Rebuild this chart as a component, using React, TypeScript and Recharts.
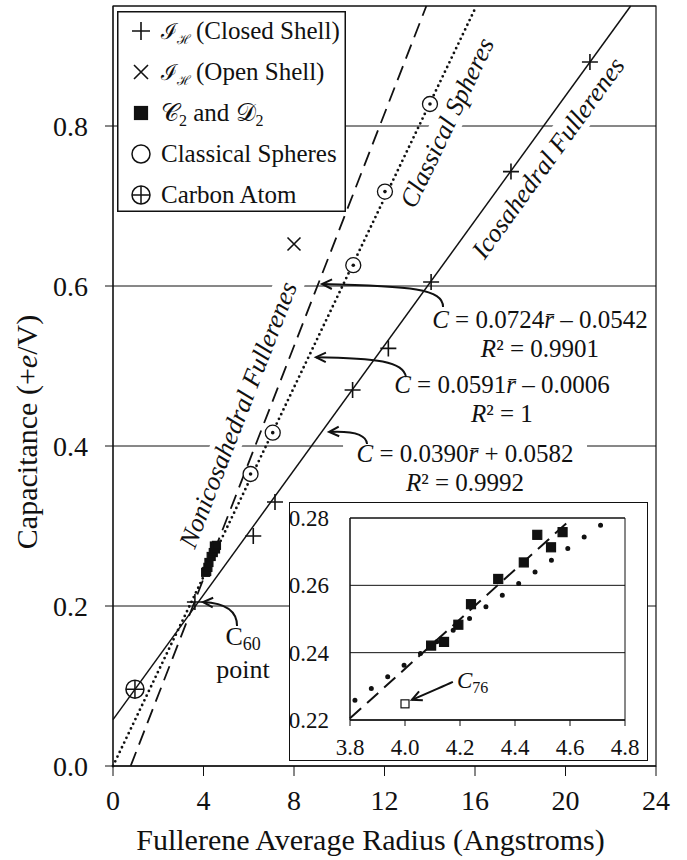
import React from 'react';
import {
  ScatterChart, Scatter, XAxis, YAxis, CartesianGrid,
  ReferenceLine, ReferenceArea, ReferenceDot,
} from 'recharts';

const FONT = "'Liberation Serif', 'Times New Roman', Times, serif";
const INK = '#111';

const xTicks = [0, 4, 8, 12, 16, 20, 24];
const yTicks = [0, 0.2, 0.4, 0.6, 0.8];

// radius (Angstrom) vs capacitance (+e/V)
const closedShell = [
  { x: 3.62, y: 0.205 }, { x: 6.2, y: 0.2875 }, { x: 7.16, y: 0.33 }, { x: 10.59, y: 0.47 },
  { x: 12.17, y: 0.522 }, { x: 14.06, y: 0.605 }, { x: 17.59, y: 0.743 }, { x: 21.08, y: 0.88 },
];
const openShell = [{ x: 8.0, y: 0.6525 }];
const c2d2 = [
  { x: 4.095, y: 0.2421 }, { x: 4.142, y: 0.2432 }, { x: 4.194, y: 0.2483 }, { x: 4.24, y: 0.2544 },
  { x: 4.339, y: 0.2619 }, { x: 4.432, y: 0.2668 }, { x: 4.481, y: 0.275 }, { x: 4.531, y: 0.2713 },
  { x: 4.573, y: 0.2758 },
];
const c76 = [{ x: 4.0, y: 0.2248 }];
const classicalSpheres = [
  { x: 6.08, y: 0.365 }, { x: 7.06, y: 0.4167 }, { x: 10.62, y: 0.626 }, { x: 12.02, y: 0.718 },
  { x: 14.01, y: 0.8275 },
];
const carbonAtom = [{ x: 0.97, y: 0.096 }];

// fit lines, end points
const icosaFit = [{ x: 0, y: 0.058 }, { x: 22.88, y: 0.95 }];
const classicalFit = [{ x: 0, y: 0 }, { x: 16.06, y: 0.95 }];
const nonicoFit = [{ x: 0.78, y: 0 }, { x: 13.85, y: 0.95 }];

const fitSlope = ['0.0724', '0.0591', '0.0390'];
const fitIntercept = ['\u2013 0.0542', '\u2013 0.0006', '+ 0.0582'];
const fitR2 = ['0.9901', '1', '0.9992'];

// inset
const insetXTicks = [3.8, 4.0, 4.2, 4.4, 4.6, 4.8];
const insetYTicks = [0.22, 0.24, 0.26, 0.28];
const insetClassical = [{ x: 3.818, y: 0.2259 }, { x: 4.712, y: 0.2779 }];
const insetNonico = [{ x: 3.8, y: 0.2205 }, { x: 4.595, y: 0.279 }];

const Plus = ({ cx, cy, r = 8 }: any) => (
  <path d={`M${cx - r},${cy}H${cx + r}M${cx},${cy - r}V${cy + r}`} stroke={INK} strokeWidth={1.6} fill="none" />
);
const Cross = ({ cx, cy, r = 6.5 }: any) => (
  <path d={`M${cx - r},${cy - r}L${cx + r},${cy + r}M${cx - r},${cy + r}L${cx + r},${cy - r}`} stroke={INK} strokeWidth={1.6} fill="none" />
);
const Square = ({ cx, cy, s = 8, open = false }: any) => (
  <rect x={cx - s / 2} y={cy - s / 2} width={s} height={s} fill={open ? '#fff' : INK} stroke={INK} strokeWidth={1.2} />
);
const DotCircle = ({ cx, cy, r = 7.5 }: any) => (
  <g>
    <circle cx={cx} cy={cy} r={r} fill="#fff" stroke={INK} strokeWidth={1.3} />
    <circle cx={cx} cy={cy} r={1.8} fill={INK} />
  </g>
);
const CirclePlus = ({ cx, cy, r = 9 }: any) => (
  <g fill="none" stroke={INK} strokeWidth={1.5}>
    <circle cx={cx} cy={cy} r={r} />
    <path d={`M${cx - r},${cy}H${cx + r}M${cx},${cy - r}V${cy + r}`} />
  </g>
);

const arrowShape = (rel: number[]) => (p: any) => {
  const { cx, cy } = p;
  const [sx, sy, c1x, c1y, c2x, c2y] = rel;
  const a = Math.atan2(-c2y, -c2x);
  const L = 11;
  const s = 0.45;
  const h1x = cx - L * Math.cos(a - s);
  const h1y = cy - L * Math.sin(a - s);
  const h2x = cx - L * Math.cos(a + s);
  const h2y = cy - L * Math.sin(a + s);
  return (
    <g fill="none" stroke={INK} strokeWidth={2}>
      <path d={`M${cx + sx},${cy + sy} C${cx + c1x},${cy + c1y} ${cx + c2x},${cy + c2y} ${cx},${cy}`} />
      <path d={`M${h1x},${h1y} L${cx},${cy} L${h2x},${h2y}`} />
    </g>
  );
};

const slantLabel = (text: string, angle: number, w: number) => (p: any) => (
  <g transform={`translate(${p.cx},${p.cy}) rotate(${-angle})`}>
    <rect x={-w / 2} y={-15} width={w} height={30} fill="#fff" />
    <text x={0} y={0} dy="0.33em" textAnchor="middle" fontStyle="italic" fontSize={26} fontFamily={FONT} fill={INK}>
      {text}
    </text>
  </g>
);

const eqShape = (i: number) => (p: any) => (
  <g fontFamily={FONT} fontSize={25} fill={INK}>
    {i === 2 && <rect x={p.cx - 122} y={p.cy - 22} width={244} height={60} fill="#fff" />}
    <text x={p.cx} y={p.cy} textAnchor="middle">
      <tspan fontStyle="italic">C</tspan>
      {` = ${fitSlope[i]}`}
      <tspan fontStyle="italic">{'r\u0304'}</tspan>
      {` ${fitIntercept[i]}`}
    </text>
    <text x={p.cx} y={p.cy + 29} textAnchor="middle">
      <tspan fontStyle="italic">R</tspan>
      {`\u00b2 = ${fitR2[i]}`}
    </text>
  </g>
);

const c60Label = (p: any) => (
  <g fontFamily={FONT} fontSize={26} fill={INK}>
    <text x={p.cx} y={p.cy} textAnchor="middle">
      C<tspan fontSize={18} dy={5}>60</tspan>
    </text>
    <text x={p.cx} y={p.cy + 33} textAnchor="middle">point</text>
  </g>
);

const c76Label = (p: any) => (
  <g>
    {arrowShape([41, -18, 30, -13, 15, -6.5])(p)}
    <text x={p.cx + 45} y={p.cy - 12} fontFamily={FONT} fontSize={23} fill={INK}>
      <tspan fontStyle="italic">C</tspan>
      <tspan fontSize={16} dy={5}>76</tspan>
    </text>
  </g>
);

function LegendBox() {
  const rowY = (i: number) => 20 + 41 * i;
  const textProps = { x: 44, fontFamily: FONT, fontSize: 25, fill: INK };
  return (
    <svg width={229} height={201} style={{ position: 'absolute', left: 117, top: 11 }}>
      <rect x={0.75} y={0.75} width={227.5} height={199.5} fill="#fff" stroke={INK} strokeWidth={1.5} />
      <Plus cx={24} cy={rowY(0)} r={9} />
      <text {...textProps} y={rowY(0) + 8}>
        <tspan fontSize={22}>{'\u2110'}</tspan>
        <tspan fontSize={13} dy={5}>{'\u210B'}</tspan>
        <tspan dy={-5}>{'\u2009(Closed Shell)'}</tspan>
      </text>
      <Cross cx={24} cy={rowY(1)} r={7} />
      <text {...textProps} y={rowY(1) + 8}>
        <tspan fontSize={22}>{'\u2110'}</tspan>
        <tspan fontSize={13} dy={5}>{'\u210B'}</tspan>
        <tspan dy={-5}>{'\u2009(Open Shell)'}</tspan>
      </text>
      <Square cx={24} cy={rowY(2)} s={13} />
      <text {...textProps} y={rowY(2) + 8}>
        <tspan>{'\u{1D49E}'}</tspan>
        <tspan fontSize={16} dy={5}>2</tspan>
        <tspan dy={-5}>{' and '}</tspan>
        <tspan>{'\u{1D49F}'}</tspan>
        <tspan fontSize={16} dy={5}>2</tspan>
      </text>
      <circle cx={24} cy={rowY(3)} r={9} fill="none" stroke={INK} strokeWidth={1.5} />
      <text {...textProps} y={rowY(3) + 8}>Classical Spheres</text>
      <CirclePlus cx={24} cy={rowY(4)} r={9} />
      <text {...textProps} y={rowY(4) + 8}>Carbon Atom</text>
    </svg>
  );
}

function Inset() {
  const tick = { fill: INK, fontSize: 23, fontFamily: FONT };
  return (
    <div style={{ position: 'absolute', left: 289, top: 502, width: 357, height: 257, border: `1.5px solid ${INK}`, background: '#fff' }}>
      <ScatterChart width={357} height={257} margin={{ top: 15, right: 22, bottom: 0, left: 0 }}>
        <CartesianGrid vertical={false} stroke={INK} strokeWidth={1} />
        <ReferenceArea x1={3.8} x2={4.8} y1={0.22} y2={0.28} fill="none" stroke={INK} strokeWidth={1} ifOverflow="visible" />
        <XAxis type="number" dataKey="x" domain={[3.8, 4.8]} ticks={insetXTicks} interval={0}
          tickFormatter={(v: number) => v.toFixed(1)} allowDataOverflow height={40}
          tickSize={6} tickMargin={13} stroke={INK} tick={tick} />
        <YAxis type="number" dataKey="y" domain={[0.22, 0.28]} ticks={insetYTicks} interval={0}
          tickFormatter={(v: number) => v.toFixed(2)} allowDataOverflow width={60}
          tickLine={false} tickMargin={15} stroke={INK} tick={tick} />
        <ReferenceLine segment={insetClassical} stroke={INK} strokeWidth={5} strokeDasharray="0 20.1"
          strokeLinecap="round" ifOverflow="visible" />
        <ReferenceLine segment={insetNonico} stroke={INK} strokeWidth={2} strokeDasharray="15 8" ifOverflow="visible" />
        <Scatter data={c2d2} isAnimationActive={false} shape={(p: any) => <Square cx={p.cx} cy={p.cy} s={9} />} />
        <Scatter data={c76} isAnimationActive={false} shape={(p: any) => <Square cx={p.cx} cy={p.cy} s={8} open />} />
        <ReferenceDot x={4.025} y={0.226} shape={c76Label} />
      </ScatterChart>
    </div>
  );
}

export default function App() {
  const tick = { fill: INK, fontSize: 28, fontFamily: FONT };
  return (
    <div style={{ position: 'absolute', left: 0, top: 0, width: 687, height: 860, background: '#fff' }}>
      <ScatterChart width={687} height={860} margin={{ top: 6, right: 31, bottom: 0, left: 0 }}>
        <CartesianGrid vertical={false} stroke={INK} strokeWidth={1} />
        <XAxis type="number" dataKey="x" domain={[0, 24]} ticks={xTicks} interval={0} allowDataOverflow
          height={94} tickSize={10} tickMargin={14} stroke={INK} tick={tick}
          label={{
            content: ({ viewBox }: any) => (
              <text x={viewBox.x + viewBox.width / 2 - 14} y={viewBox.y + 84} textAnchor="middle"
                fontFamily={FONT} fontSize={30} fill={INK}>
                Fullerene Average Radius (Angstroms)
              </text>
            ),
          }} />
        <YAxis type="number" dataKey="y" domain={[0, 0.95]} ticks={yTicks} interval={0} allowDataOverflow
          tickFormatter={(v: number) => v.toFixed(1)} width={113} tickSize={8} tickMargin={17}
          stroke={INK} tick={tick}
          label={{
            content: () => (
              <text x={37} y={432} transform="rotate(-90 37 432)" textAnchor="middle"
                fontFamily={FONT} fontSize={30} fill={INK}>
                Capacitance (+<tspan fontStyle="italic">e</tspan>/V)
              </text>
            ),
          }} />
        <ReferenceArea x1={0} x2={24} y1={0} y2={0.95} fill="none" stroke={INK} strokeWidth={1.2} ifOverflow="visible" />

        <ReferenceDot x={5.525} y={0.439} shape={slantLabel('Nonicosahedral Fullerenes', 68.7, 290)} />
        <ReferenceDot x={14.76} y={0.804} shape={slantLabel('Classical Spheres', 64.4, 186)} />
        <ReferenceDot x={19.23} y={0.76} shape={slantLabel('Icosahedral Fullerenes', 54.1, 248)} />
        <ReferenceDot x={18.87} y={0.5475} shape={eqShape(0)} />
        <ReferenceDot x={17.19} y={0.466} shape={eqShape(1)} />
        <ReferenceDot x={15.56} y={0.38} shape={eqShape(2)} />
        <ReferenceDot x={5.75} y={0.151} shape={c60Label} />

        <ReferenceLine segment={icosaFit} stroke={INK} strokeWidth={1.5} ifOverflow="visible" />
        <ReferenceLine segment={classicalFit} stroke={INK} strokeWidth={2.8} strokeDasharray="0 5.2"
          strokeLinecap="round" ifOverflow="visible" />
        <ReferenceLine segment={nonicoFit} stroke={INK} strokeWidth={1.8} strokeDasharray="15 8" ifOverflow="visible" />

        <ReferenceDot x={9.24} y={0.6025} shape={arrowShape([121, 23, 121, 5, 90, 2])} />
        <ReferenceDot x={8.97} y={0.511} shape={arrowShape([90, 20, 88, 4, 60, 1])} />
        <ReferenceDot x={9.55} y={0.4175} shape={arrowShape([38, 12, 37, 1, 20, -1])} />
        <ReferenceDot x={3.98} y={0.205} shape={arrowShape([34, 24, 34, 8, 20, 1])} />

        <Scatter data={carbonAtom} isAnimationActive={false} shape={(p: any) => <CirclePlus cx={p.cx} cy={p.cy} />} />
        <Scatter data={classicalSpheres} isAnimationActive={false} shape={(p: any) => <DotCircle cx={p.cx} cy={p.cy} />} />
        <Scatter data={c2d2} isAnimationActive={false} shape={(p: any) => <Square cx={p.cx} cy={p.cy} s={8} />} />
        <Scatter data={closedShell} isAnimationActive={false} shape={(p: any) => <Plus cx={p.cx} cy={p.cy} />} />
        <Scatter data={openShell} isAnimationActive={false} shape={(p: any) => <Cross cx={p.cx} cy={p.cy} />} />
      </ScatterChart>
      <LegendBox />
      <Inset />
    </div>
  );
}
